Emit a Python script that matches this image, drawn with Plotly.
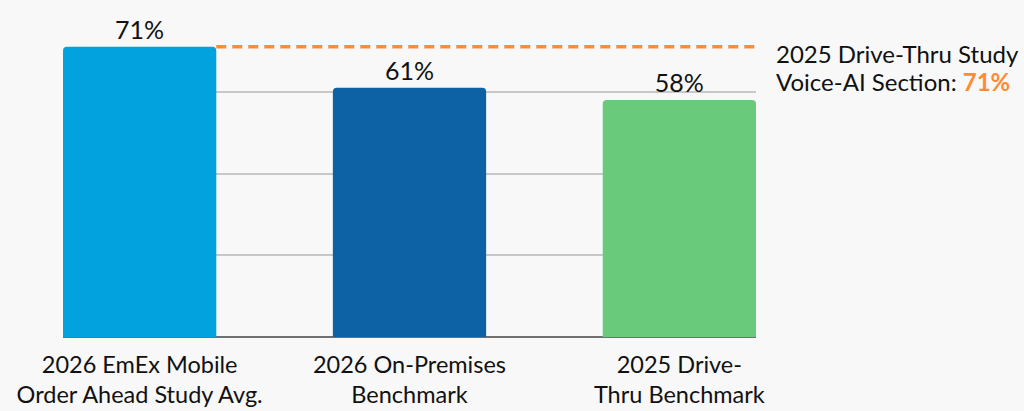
import plotly.graph_objects as go

categories = [
    "2026 EmEx Mobile<br>Order Ahead Study Avg.",
    "2026 On-Premises<br>Benchmark",
    "2025 Drive-<br>Thru Benchmark",
]
values = [71, 61, 58]
bar_colors = ["#02a2df", "#0d62a6", "#68ca7a"]
reference_value = 71
reference_lines = ["2025 Drive-Thru Study", "Voice-AI Section: "]

FONT = "Lato, 'Open Sans', sans-serif"
BAR_WIDTH = 0.568
half = BAR_WIDTH / 2

fig = go.Figure()
fig.add_trace(go.Bar(
    x=list(range(len(categories))),
    y=values,
    width=BAR_WIDTH,
    marker=dict(color=bar_colors, line=dict(width=0)),
    text=[f"{v}%" for v in values],
    textposition="outside",
    textfont=dict(family=FONT, size=25, color="#111111"),
    cliponaxis=False,
    hoverinfo="skip",
))

# Reference line for the drive-thru study
fig.add_shape(
    type="line",
    xref="x", yref="y",
    x0=half, x1=len(categories) - 1 + half + 0.012,
    y0=reference_value, y1=reference_value,
    line=dict(color="#ff8b33", width=3.5, dash="10px,6px"),
    layer="above",
)

# Two-line caption to the right of the reference line
caption = [
    reference_lines[0],
    reference_lines[1]
    + f"<b><span style='color:#ff8b33'>{reference_value}%</span></b>",
]
for text, shift in zip(caption, [-7, -35]):
    fig.add_annotation(
        xref="paper", yref="y",
        x=1.026, y=reference_value,
        xanchor="left", yanchor="middle",
        yshift=shift,
        align="left",
        showarrow=False,
        text=text,
        font=dict(family=FONT, size=24, color="#111111"),
    )

fig.update_layout(
    width=1024, height=411,
    margin=dict(l=63, r=268, t=10, b=74),
    paper_bgcolor="#f8f8f8",
    plot_bgcolor="#f8f8f8",
    showlegend=False,
    barcornerradius=4,
    font=dict(family=FONT, size=24, color="#111111"),
)
fig.update_xaxes(
    range=[-half, len(categories) - 1 + half],
    tickmode="array",
    tickvals=list(range(len(categories))),
    ticktext=categories,
    tickfont=dict(family=FONT, size=23.5, color="#111111"),
    ticklabelstandoff=11,
    automargin=False,
    showgrid=False,
    zeroline=False,
    showline=False,
    ticks="",
)
fig.update_yaxes(
    range=[0, 80],
    dtick=20,
    showticklabels=False,
    showgrid=True,
    gridcolor="#c8c8c8",
    gridwidth=1.5,
    zeroline=True,
    zerolinecolor="#707070",
    zerolinewidth=1.5,
    ticks="",
    automargin=False,
)

fig.write_html("out.html")
